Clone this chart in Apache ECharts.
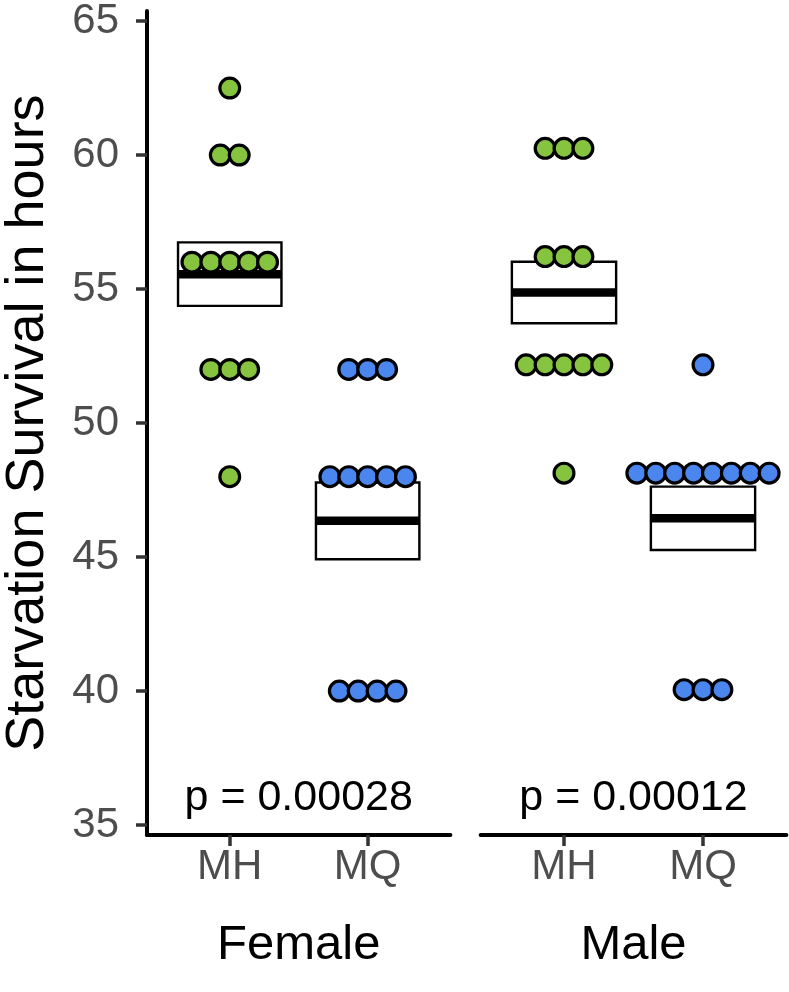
<!DOCTYPE html>
<html>
<head>
<meta charset="utf-8">
<script src="https://cdn.jsdelivr.net/npm/echarts@6.0.0/dist/echarts.min.js"></script>
<style>
html,body{margin:0;padding:0;background:#fff;}
#chart{width:789px;height:992px;}
</style>
</head>
<body>
<div id="chart"></div>
<script>
// ---- data ----
const categories = ['MH', 'MQ'];
const panels = ['Female', 'Male'];
const yTicks = [35, 40, 45, 50, 55, 60, 65];

const femaleMH = [62.5, 60, 60, 56, 56, 56, 56, 56, 52, 52, 52, 48];
const femaleMQ = [52, 52, 52, 48, 48, 48, 48, 48, 40, 40, 40, 40];
const maleMH = [60, 60, 60, 56, 56, 56, 52, 52, 52, 52, 52, 48];
const maleMQ = [52, 48, 48, 48, 48, 48, 48, 48, 48, 40, 40, 40];

// mean and mean ± SE boxes: [low, mean, high]
const femaleMHBox = [54.37, 55.55, 56.74];
const femaleMQBox = [44.92, 46.35, 47.78];
const maleMHBox = [53.54, 54.67, 55.81];
const maleMQBox = [45.16, 46.33, 47.50];

const pValues = ['p = 0.00028', 'p = 0.00012'];
const pLabelY = 36;

// ---- styling ----
const GREEN = '#86C440';
const BLUE = '#4A86EE';
const FONT = '"Liberation Sans", Arial, Helvetica, sans-serif';
const DOT_STEP = 18.9;
const DOT_R = 9.9;
const BOX_HALF = 0.375;

function stackDots(cat, values) {
  const counts = {};
  values.forEach(v => { counts[v] = (counts[v] || 0) + 1; });
  const seen = {};
  return values.map(v => {
    const k = seen[v] || 0;
    seen[v] = k + 1;
    return [cat, v, k, counts[v]];
  });
}

function dotRenderer(color) {
  return function (params, api) {
    const p = api.coord([api.value(0), api.value(1)]);
    const k = api.value(2), n = api.value(3);
    return {
      type: 'circle',
      shape: { cx: p[0] + (k - (n - 1) / 2) * DOT_STEP, cy: p[1], r: DOT_R },
      style: { fill: color, stroke: '#000', lineWidth: 3.2 }
    };
  };
}

function renderBox(params, api) {
  const x = api.value(0);
  const tl = api.coord([x - BOX_HALF, api.value(3)]);
  const br = api.coord([x + BOX_HALF, api.value(1)]);
  const m1 = api.coord([x - BOX_HALF, api.value(2)]);
  const m2 = api.coord([x + BOX_HALF, api.value(2)]);
  return {
    type: 'group',
    children: [
      { type: 'rect', shape: { x: tl[0], y: tl[1], width: br[0] - tl[0], height: br[1] - tl[1] },
        style: { fill: '#fff', stroke: '#000', lineWidth: 2.4 } },
      { type: 'line', shape: { x1: m1[0], y1: m1[1], x2: m2[0], y2: m2[1] },
        style: { stroke: '#000', lineWidth: 8.5 } }
    ]
  };
}

function textRenderer(text) {
  return function (params, api) {
    const p = api.coord([api.value(0), api.value(1)]);
    return {
      type: 'text',
      style: { text: text, x: p[0], y: p[1], align: 'center', verticalAlign: 'middle',
        fontSize: 43, fontFamily: FONT, fill: '#000' }
    };
  };
}

const yMin = 34.63, yMax = 65.37;

function xAxisFor(i, name) {
  return {
    type: 'value', gridIndex: i, min: -0.6, max: 1.6,
    name: name, nameLocation: 'middle', nameGap: 86,
    nameTextStyle: { fontSize: 49, fontFamily: FONT, color: '#000' },
    axisLine: { show: true, onZero: false, lineStyle: { color: '#000', width: 4 } },
    axisTick: { show: true, customValues: [0, 1], length: 11, lineStyle: { color: '#333', width: 3.5 } },
    axisLabel: { show: true, customValues: [0, 1], margin: 11,
      formatter: v => categories[Math.round(v)],
      fontSize: 42, fontFamily: FONT, color: '#4D4D4D' },
    splitLine: { show: false }
  };
}

const option = {
  backgroundColor: '#fff',
  animation: false,
  grid: [
    { left: 144.6, top: 3, width: 305.8, height: 832 },
    { left: 480.6, top: 3, width: 305.8, height: 832 }
  ],
  xAxis: [xAxisFor(0, panels[0]), xAxisFor(1, panels[1])],
  yAxis: [
    {
      type: 'value', gridIndex: 0, min: yMin, max: yMax,
      name: 'Starvation Survival in hours', nameLocation: 'middle', nameGap: 92,
      nameTextStyle: { fontSize: 54, fontFamily: FONT, color: '#000' },
      axisLine: { show: true, onZero: false, lineStyle: { color: '#000', width: 4 } },
      axisTick: { show: true, customValues: yTicks, length: 11, lineStyle: { color: '#333', width: 3.5 } },
      axisLabel: { show: true, customValues: yTicks, margin: 28, fontSize: 42, fontFamily: FONT, color: '#4D4D4D' },
      splitLine: { show: false }
    },
    { type: 'value', gridIndex: 1, min: yMin, max: yMax, show: false, axisLine: { onZero: false }, splitLine: { show: false } }
  ],
  series: [
    { type: 'custom', xAxisIndex: 0, yAxisIndex: 0, z: 2, renderItem: renderBox, data: [[0].concat(femaleMHBox), [1].concat(femaleMQBox)] },
    { type: 'custom', xAxisIndex: 1, yAxisIndex: 1, z: 2, renderItem: renderBox, data: [[0].concat(maleMHBox), [1].concat(maleMQBox)] },
    { type: 'custom', xAxisIndex: 0, yAxisIndex: 0, z: 3, renderItem: dotRenderer(GREEN), data: stackDots(0, femaleMH) },
    { type: 'custom', xAxisIndex: 0, yAxisIndex: 0, z: 3, renderItem: dotRenderer(BLUE), data: stackDots(1, femaleMQ) },
    { type: 'custom', xAxisIndex: 1, yAxisIndex: 1, z: 3, renderItem: dotRenderer(GREEN), data: stackDots(0, maleMH) },
    { type: 'custom', xAxisIndex: 1, yAxisIndex: 1, z: 3, renderItem: dotRenderer(BLUE), data: stackDots(1, maleMQ) },
    { type: 'custom', xAxisIndex: 0, yAxisIndex: 0, z: 4, renderItem: textRenderer(pValues[0]), data: [[0.5, pLabelY]] },
    { type: 'custom', xAxisIndex: 1, yAxisIndex: 1, z: 4, renderItem: textRenderer(pValues[1]), data: [[0.5, pLabelY]] }
  ]
};

const chart = echarts.init(document.getElementById('chart'), null, { renderer: 'canvas' });
chart.setOption(option);
</script>
</body>
</html>
